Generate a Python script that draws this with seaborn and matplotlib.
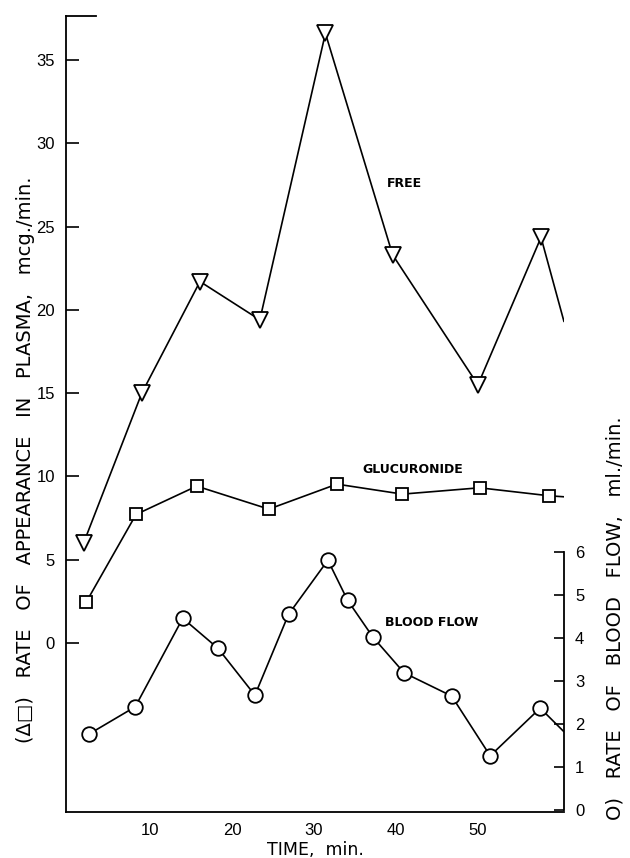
import matplotlib
matplotlib.use("Agg")
import matplotlib.pyplot as plt
import seaborn as sns
import pandas as pd

# Free drug (triangles); the last pair is where the trace runs off the right axis
free_time = [1.9, 9.0, 16.1, 23.4, 31.4, 39.6, 50.0, 57.7, 60.5]
free_rate = [6.0, 15.0, 21.7, 19.4, 36.6, 23.3, 15.5, 24.35, 19.3]

# Glucuronide (squares)
gluc_time = [2.2, 8.3, 15.7, 24.5, 32.8, 40.8, 50.2, 58.7, 60.5]
gluc_rate = [2.44, 7.72, 9.42, 8.04, 9.54, 8.94, 9.32, 8.84, 8.78]

# Blood flow (circles, right axis, ml./min.)
flow_time = [2.6, 8.2, 14.0, 18.3, 22.8, 26.9, 31.7, 34.1, 37.2, 41.0, 46.8, 51.5, 57.6, 60.5]
flow_rate = [1.77, 2.40, 4.46, 3.76, 2.67, 4.55, 5.81, 4.88, 4.02, 3.19, 2.65, 1.26, 2.37, 1.82]

left_ticks = [0, 5, 10, 15, 20, 25, 30, 35]
right_ticks = [0, 1, 2, 3, 4, 5, 6]
time_ticks = [10, 20, 30, 40, 50]

sns.set_style("white")
plt.rcParams["font.family"] = ["Liberation Sans", "DejaVu Sans"]
plt.rcParams["text.color"] = "black"
plt.rcParams["axes.labelcolor"] = "black"

fig = plt.figure(figsize=(6.3, 8.58), dpi=100)
ax = fig.add_axes([0.1048, 0.0536, 0.7904, 0.9278])
ax2 = ax.twinx()

line_kw = dict(color="black", linewidth=1.2, markerfacecolor="white",
               markeredgecolor="black", markeredgewidth=1.3,
               markevery=slice(0, -1))

free_df = pd.DataFrame({"t": free_time, "v": free_rate})
gluc_df = pd.DataFrame({"t": gluc_time, "v": gluc_rate})
flow_df = pd.DataFrame({"t": flow_time, "v": flow_rate})

sns.lineplot(data=free_df, x="t", y="v", ax=ax, marker="v", markersize=11, **line_kw)
sns.lineplot(data=gluc_df, x="t", y="v", ax=ax, marker="s", markersize=9, **line_kw)
sns.lineplot(data=flow_df, x="t", y="v", ax=ax2, marker="o", markersize=10.5, **line_kw)

ax.set_xlim(-0.24, 60.5)
ax.set_ylim(-10.14, 37.64)
ax2.set_ylim(-0.047, 18.47)

ax.set_xticks(time_ticks)
ax.set_yticks(left_ticks)
ax2.set_yticks(right_ticks)
ax.tick_params(axis="x", direction="in", length=6, width=1.2, labelsize=12, pad=8, colors="black")
ax.tick_params(axis="y", direction="in", length=9, width=1.2, labelsize=12, pad=8, colors="black")
ax2.tick_params(axis="y", direction="in", length=7, width=1.2, labelsize=12, pad=8, colors="black")

for a in (ax, ax2):
    for s in a.spines.values():
        s.set_color("black")
        s.set_linewidth(1.3)
    a.spines["top"].set_visible(False)
ax.spines["right"].set_visible(False)
ax2.spines["left"].set_visible(False)
ax2.spines["bottom"].set_visible(False)
ax2.spines["right"].set_bounds(0, 6)
ax.spines["top"].set_visible(True)
ax.spines["top"].set_bounds(-0.24, 3.4)

ax.set_xlabel("TIME,  min.", fontsize=12.5, family="DejaVu Sans", labelpad=2)
ax.set_ylabel("(\u0394\u25a1)   RATE   OF   APPEARANCE   IN   PLASMA,   mcg./min.",
              fontsize=14, family="DejaVu Sans")
ax.yaxis.set_label_coords(-0.063, 0.442)
ax2.set_ylabel("O)   RATE   OF   BLOOD   FLOW,   ml./min.", fontsize=14, family="DejaVu Sans")
ax2.yaxis.set_label_coords(1.084, 0.244)

lab_kw = dict(fontsize=9, fontweight="bold", family="DejaVu Sans", ha="center",
              va="center", color="black")
ax.text(41.1, 27.6, "FREE", **lab_kw)
ax.text(42.1, 10.44, "GLUCURONIDE", **lab_kw)
ax2.text(44.4, 4.37, "BLOOD FLOW", **lab_kw)

fig.savefig("out.png", dpi=100, facecolor="white")
